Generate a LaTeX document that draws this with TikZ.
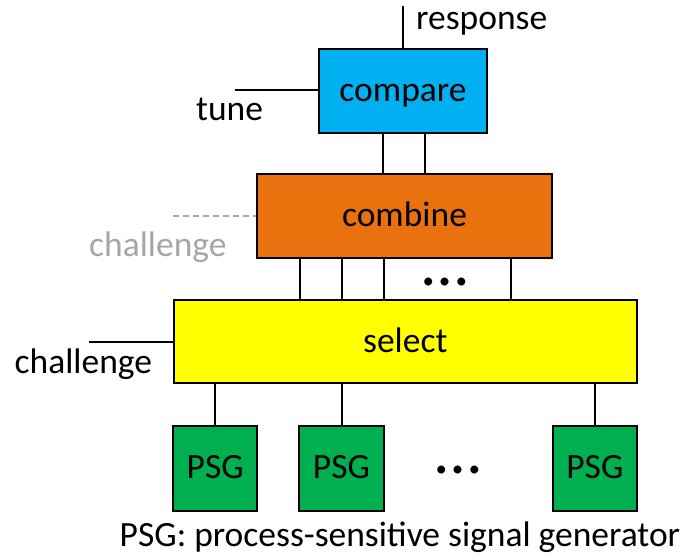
\documentclass[tikz,border=0pt]{standalone}
\usepackage{fontspec}
\setmainfont{Carlito}
\definecolor{cmpblue}{RGB}{0,176,240}
\definecolor{cmborange}{RGB}{233,113,14}
\definecolor{selyellow}{RGB}{255,255,0}
\definecolor{psggreen}{RGB}{0,176,80}
\definecolor{softgrey}{RGB}{166,166,166}
\tikzset{
  block/.style={draw=black, line width=2pt, inner sep=0pt,
    text height=24pt, text depth=3pt,
    font=\fontsize{35.5}{41}\selectfont},
  wire/.style={line width=2pt},
  lbl/.style={anchor=base west, inner sep=0pt, font=\fontsize{35.5}{41}\selectfont},
  dots/.style={anchor=base, inner sep=0pt, font=\fontsize{66}{66}\selectfont},
}
\begin{document}
\begin{tikzpicture}[x=1pt, y=-1pt]
\useasboundingbox (0,0) rectangle (682,559);

% processing blocks
\node[block, fill=cmpblue, minimum width=168pt, minimum height=84pt] (compare) at (403,91) {compare};
\node[block, fill=cmborange, minimum width=295pt, minimum height=84pt] (combine) at (404.5,216.4) {combine};
\node[block, fill=selyellow, minimum width=463.5pt, minimum height=83pt] (select) at (405.3,341.8) {select};
\node[block, fill=psggreen, minimum width=84.5pt, minimum height=84.7pt] (psgA) at (215.2,468.3) {PSG};
\node[block, fill=psggreen, minimum width=84.5pt, minimum height=84.7pt] (psgB) at (341.5,468.3) {PSG};
\node[block, fill=psggreen, minimum width=84.5pt, minimum height=84.7pt] (psgC) at (594.9,468.3) {PSG};

% free ends of the external signals
\coordinate (respEnd) at (403.3,6);
\coordinate (tuneEnd) at (235,90.3);
\coordinate (dashEnd) at (172.7,216);
\coordinate (chalEnd) at (88.7,342.3);

% labels
\node[lbl] (resp) at (416,30) {response};
\node[lbl] (tune) at (196,121) {tune};
\node[lbl, text=softgrey] (chalGrey) at (89,256.7) {challenge};
\node[lbl] (chal) at (14.5,373.3) {challenge};
\node[lbl] (legend) at (119.5,546.7) {PSG: process-sensitive signal generator};
\node[dots] (dotsUpper) at (445,285) {…};
\node[dots] (dotsLower) at (458.3,473.5) {…};

% external signals
\draw[wire] (compare.north -| respEnd) -- (respEnd);
\draw[wire] (tuneEnd) -- (compare.west |- tuneEnd);
\draw[wire, softgrey, dashed, dash pattern=on 6pt off 4pt] (dashEnd) -- (combine.west |- dashEnd);
\draw[wire] (chalEnd) -- (select.west |- chalEnd);

% compare <- combine
\foreach \xx in {383,425}
  \draw[wire] (compare.south -| \xx,0) -- (combine.north -| \xx,0);
% combine <- select
\foreach \xx in {300,342,384.3,510.6}
  \draw[wire] (combine.south -| \xx,0) -- (select.north -| \xx,0);
% select <- generators
\foreach \g in {psgA,psgB,psgC}
  \draw[wire] (select.south -| \g) -- (\g.north);
\end{tikzpicture}
\end{document}
